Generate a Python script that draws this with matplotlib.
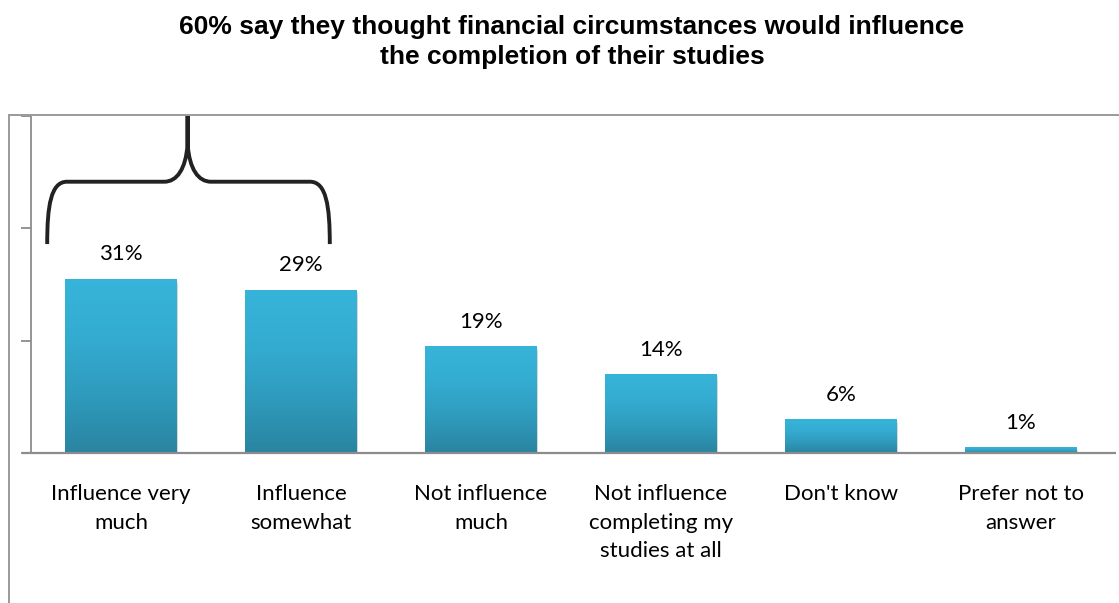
import numpy as np
import matplotlib
matplotlib.use("Agg")
import matplotlib.pyplot as plt
from matplotlib.colors import LinearSegmentedColormap
from matplotlib.patches import Rectangle
from matplotlib.path import Path
from matplotlib.patches import PathPatch

categories = [
    "Influence very\nmuch",
    "Influence\nsomewhat",
    "Not influence\nmuch",
    "Not influence\ncompleting my\nstudies at all",
    "Don't know",
    "Prefer not to\nanswer",
]
values = [31, 29, 19, 14, 6, 1]
value_labels = ["31%", "29%", "19%", "14%", "6%", "1%"]
title = "60% say they thought financial circumstances would influence\nthe completion of their studies"

W, H = 1119, 603
fig = plt.figure(figsize=(W / 100, H / 100), dpi=100)
fig.patch.set_facecolor("white")

label_font = ["Lato", "DejaVu Sans"]
title_font = ["Liberation Sans", "DejaVu Sans"]

# plot area in pixels
x0, x1 = 31, 1111
y_top, y_base = 116, 453
ax = fig.add_axes([x0 / W, (H - y_base) / H, (x1 - x0) / W, (y_base - y_top) / H])
ax.set_xlim(-0.5, len(values) - 0.5)
ax.set_ylim(0, 60)
ax.set_facecolor("none")

for s in ["top", "right"]:
    ax.spines[s].set_visible(False)
ax.spines["left"].set_color("#8c8c8c")
ax.spines["left"].set_linewidth(1.3)
ax.spines["bottom"].set_visible(False)
ax.set_yticks([0, 20, 40, 60])
ax.set_yticklabels([])
ax.tick_params(axis="y", length=7, width=1.3, color="#8c8c8c")
ax.set_xticks([])

# baseline
ax.plot([-0.55, len(values) - 0.47], [0, 0], color="#8c8c8c", lw=1.6,
        clip_on=False, zorder=4, solid_capstyle="butt")

cmap = LinearSegmentedColormap.from_list(
    "barfill", ["#2a84a0", "#2f9bbd", "#34acd1", "#37b4da"])
grad = np.linspace(0, 1, 256).reshape(-1, 1)
bar_w = 0.62

for i, v in enumerate(values):
    left = i - bar_w / 2
    # soft shadow under each bar
    for k, a in enumerate([0.12, 0.08, 0.05]):
        sh = Rectangle((left + 0.005, -0.35 - 0.35 * k), bar_w, v,
                       facecolor="#555555", edgecolor="none", alpha=a, zorder=1)
        ax.add_patch(sh)
    rect = Rectangle((left, 0), bar_w, v, facecolor="none", edgecolor="none", zorder=2)
    ax.add_patch(rect)
    im = ax.imshow(grad, cmap=cmap, aspect="auto", origin="lower",
                   extent=(left, left + bar_w, 0, v), zorder=2, interpolation="bilinear")
    im.set_clip_path(rect)
    ax.text(i, v + 4.4, value_labels[i], ha="center", va="center",
            fontsize=16, family=label_font, color="#000000")
    ax.text(i, -5.5, categories[i], ha="center", va="top", fontsize=16,
            family=label_font, color="#000000", linespacing=1.55)

# brace grouping the first two bars
bx_l, bx_c, bx_r = -0.41, 0.37, 1.16
by_end, by_mid, by_top = 37.2, 48.3, 60
verts = [
    (bx_l, by_end), (bx_l, 44.0), (bx_l + 0.02, by_mid), (bx_l + 0.11, by_mid),
    (bx_c - 0.13, by_mid), (bx_c - 0.13, by_mid),
    (bx_c - 0.06, by_mid), (bx_c - 0.01, 50.5), (bx_c, 55.0),
    (bx_c, by_top),
    (bx_c, 55.0),
    (bx_c + 0.01, 50.5), (bx_c + 0.06, by_mid), (bx_c + 0.13, by_mid),
    (bx_r - 0.11, by_mid), (bx_r - 0.11, by_mid),
    (bx_r - 0.02, by_mid), (bx_r, 44.0), (bx_r, by_end),
]
codes = [Path.MOVETO, Path.CURVE4, Path.CURVE4, Path.CURVE4,
         Path.LINETO, Path.LINETO,
         Path.CURVE4, Path.CURVE4, Path.CURVE4,
         Path.LINETO,
         Path.LINETO,
         Path.CURVE4, Path.CURVE4, Path.CURVE4,
         Path.LINETO, Path.LINETO,
         Path.CURVE4, Path.CURVE4, Path.CURVE4]
brace = PathPatch(Path(verts, codes), facecolor="none", edgecolor="#222222",
                  lw=2.8, clip_on=False, zorder=5, capstyle="butt")
ax.add_patch(brace)

# outer chart frame
fig.add_artist(plt.Line2D([9 / W, 9 / W], [0, (H - 115) / H], color="#9a9a9a",
                          lw=1.4, transform=fig.transFigure))
fig.add_artist(plt.Line2D([9 / W, 1], [(H - 115) / H, (H - 115) / H], color="#9a9a9a",
                          lw=1.4, transform=fig.transFigure))

fig.text(572 / W, 1 - 42 / H, title, ha="center", va="center", fontsize=19,
         fontweight="bold", family=title_font, linespacing=1.3)

fig.savefig("out.png", dpi=100)
